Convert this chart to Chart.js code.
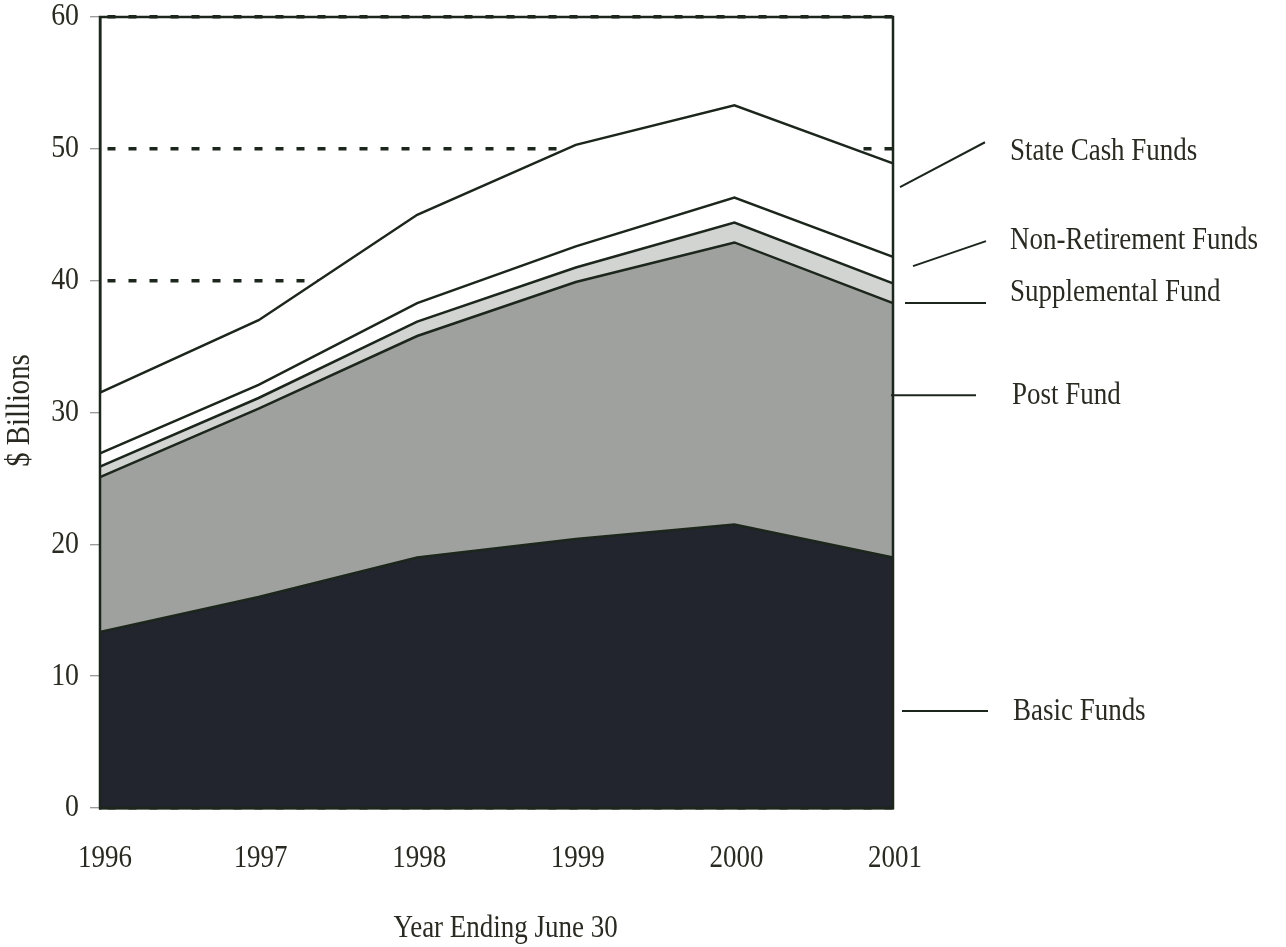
<!DOCTYPE html>
<html>
<head>
<meta charset="utf-8">
<script src="https://cdn.jsdelivr.net/npm/chart.js@4/dist/chart.umd.min.js"></script>
<style>
  html, body { margin: 0; padding: 0; background: #ffffff; }
  #wrap { width: 1286px; height: 947px; }
</style>
</head>
<body>
<div id="wrap"><canvas id="c" width="1286" height="947"></canvas></div>
<script>
const years = ['1996', '1997', '1998', '1999', '2000', '2001'];
const basicFunds = [13.35, 16.0, 19.0, 20.4, 21.5, 19.0];
const postFund = [11.75, 14.3, 16.8, 19.5, 21.4, 19.3];
const supplementalFund = [0.8, 0.8, 1.1, 1.1, 1.5, 1.5];
const nonRetirementFunds = [1.0, 1.0, 1.4, 1.6, 1.9, 2.0];
const stateCashFunds = [4.6, 4.9, 6.7, 7.7, 7.0, 7.1];
const yTicks = [0, 10, 20, 30, 40, 50, 60];
const seriesNames = ['Basic Funds', 'Post Fund', 'Supplemental Fund', 'Non-Retirement Funds', 'State Cash Funds'];
// label anchors in data units: [text value, leader start value, leader end value]
const labelValues = [
  [7.3, 7.35, 7.35],
  [31.3, 31.3, 31.3],
  [39.1, 38.3, 38.3],
  [43.0, 41.1, 43.0],
  [49.8, 47.1, 50.5]
];

const INK = '#1c261c';
const SERIF = '"Liberation Serif", "Times New Roman", serif';
const SQ = 0.87; // horizontal squeeze of the condensed face

function squeezedText(ctx, text, x, y, size, align, rot) {
  ctx.save();
  ctx.translate(x, y);
  if (rot) ctx.rotate(rot);
  ctx.scale(SQ, 1);
  ctx.font = size + 'px ' + SERIF;
  ctx.fillStyle = '#2a2a22';
  ctx.textAlign = align;
  ctx.textBaseline = 'middle';
  ctx.fillText(text, 0, 0);
  ctx.restore();
}

const decor = {
  id: 'decor',
  afterDraw(chart) {
    const ctx = chart.ctx;
    const a = chart.chartArea;
    const y = chart.scales.y;
    const x = chart.scales.x;
    // plot frame
    ctx.save();
    ctx.strokeStyle = INK;
    ctx.lineWidth = 2.5;
    ctx.strokeRect(a.left, a.top, a.right - a.left, a.bottom - a.top);
    ctx.restore();

    // x tick labels
    years.forEach((lab, i) => {
      squeezedText(ctx, lab, x.getPixelForValue(i) + (i === 0 ? 5 : 2), a.bottom + 51, 31, 'center');
    });
    // y tick labels
    yTicks.forEach(v => {
      squeezedText(ctx, String(v), a.left - 21, y.getPixelForValue(v), 32, 'right');
    });
    // axis titles
    squeezedText(ctx, '$ Billions', a.left - 80, y.getPixelForValue(30) - 2, 33, 'center', -Math.PI / 2);
    squeezedText(ctx, 'Year Ending June 30', (a.left + a.right) / 2 + 9, a.bottom + 121, 31, 'center');

    // series labels with leader lines
    const startOff = [9, -2, 12, 20, 7];
    const endOff = [95, 83, 93, 93, 92];
    const textOff = [120, 119, 117, 117, 117];
    ctx.save();
    ctx.strokeStyle = INK;
    ctx.lineWidth = 2;
    labelValues.forEach((lv, i) => {
      ctx.beginPath();
      ctx.moveTo(a.right + startOff[i], y.getPixelForValue(lv[1]));
      ctx.lineTo(a.right + endOff[i], y.getPixelForValue(lv[2]));
      ctx.stroke();
      squeezedText(ctx, seriesNames[i], a.right + textOff[i], y.getPixelForValue(lv[0]), 31, 'left');
    });
    ctx.restore();
  }
};

const fills = ['#22252e', '#9ea19d', '#d2d4d2', '#ffffff', '#ffffff'];
const seriesData = [basicFunds, postFund, supplementalFund, nonRetirementFunds, stateCashFunds];

new Chart(document.getElementById('c'), {
  type: 'line',
  data: {
    labels: years,
    datasets: seriesData.map((d, i) => ({
      label: seriesNames[i],
      data: d,
      backgroundColor: fills[i],
      borderColor: INK,
      borderWidth: 2.5,
      pointRadius: 0,
      tension: 0,
      fill: i === 0 ? 'origin' : '-1'
    }))
  },
  options: {
    responsive: false,
    animation: false,
    devicePixelRatio: 1,
    layout: { padding: { left: 0, right: 393, top: 17, bottom: 0 } },
    plugins: { legend: { display: false }, tooltip: { enabled: false }, title: { display: false } },
    scales: {
      x: {
        type: 'category',
        offset: false,
        grid: { display: false, drawTicks: false },
        border: { display: true, color: INK, width: 2.5 },
        ticks: { display: false },
        afterFit(s) { s.height = 139; }
      },
      y: {
        stacked: true,
        min: 0,
        max: 60,
        ticks: { stepSize: 10, display: false },
        grid: {
          color: '#1c261c',
          lineWidth: 3.5,
          drawTicks: true,
          tickLength: 10,
          tickColor: '#7a7a7a',
          tickWidth: 1
        },
        border: { display: true, color: INK, width: 2.5, dash: [8, 13], dashOffset: -6 },
        afterFit(s) { s.width = 100; }
      }
    }
  },
  plugins: [decor]
});
</script>
</body>
</html>
